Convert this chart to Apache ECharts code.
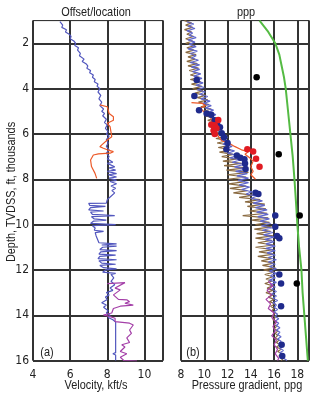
<!DOCTYPE html>
<html><head><meta charset="utf-8">
<script src="https://cdn.jsdelivr.net/npm/echarts@6/dist/echarts.min.js"></script>
<style>html,body{margin:0;padding:0;background:#fff}#c{width:325px;height:394px}</style>
</head><body><div id="c"></div>
<script>
// ---- axis ticks / labels ----
const depthTicks = [2,4,6,8,10,12,14,16];
const velTicks = [4,6,8,10];
const ppgTicks = [8,10,12,14,16,18];
const titles = ['Offset/location','ppp'];
const xNames = ['Velocity, kft/s','Pressure gradient, ppg'];
const yName = 'Depth, TVDSS, ft, thousands';
const panelLabels = ['(a)','(b)'];

// ---- panel (a): velocity [depth, kft/s] ----
const velBlue = [[1.05,5.45],[1.2,5.6],[1.3,5.55],[1.4,5.8],[1.5,5.75],[1.6,5.95],[1.7,6.05],[1.8,6.0],[1.9,6.2],[2.0,6.3],[2.1,6.25],[2.2,6.45],[2.3,6.4],[2.45,6.55],[2.55,6.5],[2.7,6.75],[2.8,6.65],[2.9,6.85],[3.0,6.95],[3.1,6.9],[3.2,7.1],[3.3,7.05],[3.4,7.25],[3.5,7.2],[3.6,7.35],[3.7,7.3],[3.8,7.5],[3.9,7.45],[4.0,7.6],[4.15,7.5],[4.3,7.65],[4.45,7.55],[4.6,7.7],[4.75,7.6],[4.9,7.8],[5.0,7.7],[5.1,7.85],[5.2,7.75],[5.35,7.95],[5.5,7.85],[5.6,8.0],[5.75,7.9],[5.9,8.05],[6.0,7.95],[6.1,8.1],[6.25,7.95],[6.4,8.05],[6.55,7.95],[6.7,8.1],[6.85,7.95],[7.0,8.1],[7.1,8.0],[7.25,8.3],[7.3,8.0],[7.45,8.4],[7.5,8.1],[7.6,8.45],[7.65,8.0],[7.75,8.5],[7.8,8.05],[7.9,8.5],[7.95,8.1],[8.05,8.5],[8.1,8.15],[8.2,8.5],[8.3,8.2],[8.4,8.45],[8.5,8.25],[8.6,8.4],[8.75,8.2],[8.9,8.0],[9.05,7.95],[9.06,7.0],[9.15,7.05],[9.2,7.9],[9.25,7.1],[9.35,7.0],[9.4,7.8],[9.45,7.1],[9.55,7.2],[9.6,8.4],[9.65,7.15],[9.75,7.3],[9.8,7.95],[9.85,7.25],[9.95,7.1],[10.0,8.45],[10.05,7.2],[10.15,7.35],[10.25,7.3],[10.3,7.8],[10.35,7.35],[10.5,7.4],[10.6,7.45],[10.7,7.5],[10.8,7.55],[10.85,8.5],[10.9,7.7],[10.95,8.5],[11.0,7.75],[11.1,7.6],[11.15,8.5],[11.2,7.65],[11.3,7.55],[11.35,8.45],[11.4,7.6],[11.5,7.5],[11.55,8.5],[11.6,7.55],[11.7,7.7],[11.75,8.45],[11.8,7.6],[11.9,7.8],[11.95,8.5],[12.0,7.9],[12.1,7.75],[12.15,8.45],[12.2,8.2],[12.35,8.35],[12.5,8.2],[12.65,8.4],[12.8,8.15],[12.9,8.3],[13.0,7.95],[13.1,8.1],[13.2,7.9],[13.3,8.0],[13.45,7.7],[13.55,7.95],[13.65,7.8],[13.8,8.05],[13.9,7.95],[14.0,8.15],[14.1,8.05],[14.2,8.3],[14.3,8.45],[15.65,8.45],[15.7,8.3],[15.75,8.45],[16.0,8.45]];
const velRed = [[4.72,7.6],[4.8,8.0],[5.1,8.1],[5.24,8.33],[5.4,8.33],[5.53,8.0],[5.68,8.15],[6.12,8.24],[6.27,8.0],[6.56,7.6],[6.63,7.79],[6.7,8.0],[6.78,8.33],[6.85,8.15],[6.88,7.52],[6.93,7.25],[7.15,7.1],[7.44,7.15],[7.74,7.34],[7.96,7.43]];
const velPurple = [[12.6,8.0],[12.56,8.95],[12.8,8.42],[12.88,8.7],[13.1,8.33],[13.3,8.6],[13.32,9.05],[13.4,9.2],[13.47,8.95],[13.55,9.4],[13.6,8.7],[13.7,8.33],[13.9,8.24],[13.99,7.79],[14.06,8.15],[14.13,8.42],[14.28,8.42],[14.35,9.2],[14.43,9.4],[14.65,9.2],[14.8,9.3],[15.0,9.05],[15.2,9.2],[15.3,8.78],[15.4,8.95],[15.6,8.7],[15.7,9.05],[15.85,8.7],[16.0,8.9],[16.02,9.6]];

// ---- panel (b): pressure gradient [depth, ppg] ----
const ppgBrown = [[1.0,8.3],[1.1,8.9],[1.2,8.4],[1.3,9.0],[1.4,8.3],[1.5,8.9],[1.6,8.5],[1.7,9.1],[1.8,8.4],[1.9,9.0],
[2.0,8.4],[2.1,9.2],[2.2,8.5],[2.3,9.1],[2.4,8.4],[2.5,9.3],[2.6,8.6],[2.7,9.2],[2.8,8.5],[2.9,9.4],
[3.0,8.6],[3.1,9.5],[3.2,8.7],[3.3,9.4],[3.4,8.8],[3.5,9.6],[3.6,8.8],[3.7,9.7],[3.8,8.9],[3.9,9.8],
[4.0,9.0],[4.1,9.9],[4.2,9.2],[4.3,10.1],[4.4,9.4],[4.5,10.3],[4.6,9.5],[4.7,10.4],[4.8,9.7],[4.9,10.6],
[5.0,9.9],[5.1,10.8],[5.2,10.1],[5.3,10.9],[5.4,10.3],[5.5,11.2],[5.6,10.5],[5.7,11.3],[5.8,10.7],[5.9,11.5],
[6.0,10.9],[6.1,11.9],[6.2,11.0],[6.3,12.0],[6.4,11.1],[6.5,12.2],[6.6,11.2],[6.7,12.3],[6.8,11.3],[6.9,12.5],
[7.0,11.5],[7.1,12.8],[7.2,11.6],[7.3,13.2],[7.4,11.7],[7.5,13.6],[7.6,11.9],[7.7,13.8],[7.8,12.0],[7.9,13.6],
[8.0,12.0],[8.1,13.5],[8.2,12.1],[8.3,13.6],[8.4,12.2],[8.5,13.7],[8.6,12.5],[8.7,14.2],[8.8,13.0],[8.9,14.8],
[9.0,13.5],[9.1,15.2],[9.2,13.7],[9.3,15.3],[9.4,13.9],[9.5,15.4],[9.6,13.3],[9.7,15.5],[9.8,14.1],[9.9,15.6],
[10.0,14.4],[10.1,15.8],[10.2,14.3],[10.3,15.7],[10.4,14.5],[10.5,15.9],[10.6,14.4],[10.7,15.8],[10.8,14.6],[10.9,16.0],
[11.0,14.4],[11.1,15.9],[11.2,14.7],[11.3,16.0],[11.4,14.6],[11.5,15.8],[11.6,14.9],[11.7,16.0],[11.8,15.0],[11.9,16.1],
[12.0,15.1],[12.1,16.0],[12.2,15.2],[12.3,15.9],[12.4,15.3],[12.5,15.8],[12.6,15.2],[12.7,15.9],[12.8,15.4],[12.9,15.9],
[13.0,15.3],[13.1,15.9],[13.2,15.5],[13.3,16.0],[13.4,15.6],[13.5,16.1],[13.6,15.7],[13.7,16.0],[13.8,15.8],[13.9,16.1],
[14.0,15.9],[14.1,16.1],[14.2,15.9],[14.3,16.2],[14.4,16.0],[14.5,16.2],[14.6,16.0],[14.7,16.3],[14.8,16.1],[14.9,16.3],
[15.0,16.1],[15.1,16.4],[15.2,16.2],[15.3,16.5],[15.4,16.2],[15.5,16.6],[15.6,16.3],[15.7,16.7],[15.8,16.4],[15.9,16.8],[16.0,16.6]];
const ppgBlue = [[1.05,8.5],[1.15,9.1],[1.25,8.6],[1.35,9.2],[1.45,8.5],[1.55,9.0],[1.65,8.7],[1.75,9.3],[1.85,8.6],[1.95,9.2],
[2.05,8.7],[2.15,9.3],[2.25,8.6],[2.35,9.4],[2.45,8.8],[2.55,9.3],[2.65,8.9],[2.75,9.5],[2.85,8.8],[2.95,9.6],
[3.05,8.9],[3.15,9.6],[3.25,9.0],[3.35,9.7],[3.45,9.1],[3.55,9.8],[3.65,9.2],[3.75,9.9],[3.85,9.3],[3.95,10.0],
[4.05,9.4],[4.15,10.1],[4.25,9.6],[4.35,10.3],[4.45,9.7],[4.55,10.5],[4.65,9.9],[4.75,10.6],[4.85,10.1],[4.95,10.8],
[5.05,10.3],[5.15,11.0],[5.25,10.5],[5.35,11.1],[5.45,10.7],[5.55,11.3],[5.65,10.9],[5.75,11.5],[5.85,11.1],[5.95,11.7],
[6.05,11.3],[6.15,12.0],[6.25,11.4],[6.35,12.2],[6.45,11.6],[6.55,12.4],[6.65,11.8],[6.75,12.6],[6.85,12.0],[6.95,12.9],
[7.05,12.2],[7.15,13.1],[7.25,12.4],[7.35,13.4],[7.45,12.6],[7.55,13.6],[7.65,12.7],[7.75,13.7],[7.85,12.8],[7.95,13.8],
[8.05,12.9],[8.15,13.8],[8.25,13.0],[8.35,13.9],[8.45,13.2],[8.55,14.1],[8.65,13.6],[8.75,14.5],[8.85,14.0],[8.95,15.0],
[9.05,14.2],[9.15,15.2],[9.25,14.4],[9.35,15.4],[9.45,14.5],[9.55,15.5],[9.65,14.6],[9.75,15.6],[9.85,14.8],[9.95,15.7],
[10.05,14.9],[10.15,15.8],[10.25,15.0],[10.35,15.9],[10.45,15.1],[10.55,16.0],[10.65,15.2],[10.75,16.0],[10.85,15.3],[10.95,16.1],
[11.05,15.3],[11.15,16.1],[11.25,15.4],[11.35,16.1],[11.45,15.5],[11.55,16.2],[11.65,15.5],[11.75,16.1],[11.85,15.6],[11.95,16.2],
[12.05,15.6],[12.15,16.2],[12.25,15.7],[12.35,16.1],[12.45,15.6],[12.55,16.2],[12.65,15.7],[12.75,16.1],[12.85,15.8],[12.95,16.2],
[13.05,15.8],[13.15,16.2],[13.25,15.9],[13.35,16.3],[13.45,15.9],[13.55,16.2],[13.65,16.0],[13.75,16.3],[13.85,16.0],[13.95,16.3],
[14.05,16.1],[14.15,16.4],[14.25,16.1],[14.35,16.4],[14.45,16.2],[14.55,16.5],[14.65,16.2],[14.75,16.5],[14.85,16.3],[14.95,16.6],
[15.05,16.3],[15.15,16.6],[15.25,16.4],[15.35,16.7],[15.45,16.5],[15.55,16.8],[15.65,16.5],[15.75,16.9],[15.85,16.6],[15.95,17.0],[16.0,17.1]];
const ppgPurple = [[12.5,15.5],[12.7,15.9],[12.9,15.4],[13.1,15.8],[13.3,15.3],[13.5,15.7],[13.7,15.5],[13.9,16.0],[14.1,15.8],[14.3,16.2],[14.5,15.9],[14.7,16.1],[14.9,15.8],[15.1,16.2],[15.3,16.0],[15.5,16.3],[15.7,16.1],[15.9,16.4],[16.0,16.3]];
const ppgRed = [[4.62,8.9],[4.65,9.8],[4.75,10.1],[4.85,9.7],[5.0,9.9],[5.2,10.5],[5.5,10.7],[5.7,10.6],[5.9,11.0],[6.1,11.2],[6.3,11.5],[6.4,12.1],[6.55,12.6],[6.7,13.2],[6.78,13.8],[6.9,13.5],[7.05,13.9],[7.2,14.2],[7.45,14.0],[7.65,14.2],[7.8,14.0],[8.0,14.4]];
const ppgGreen = [[1.0,14.75],[1.5,15.5],[2.0,16.1],[2.5,16.45],[3.0,16.65],[3.5,16.85],[4.0,17.0],[5.0,17.2],[6.0,17.4],[7.0,17.6],[8.0,17.75],[9.0,17.88],[10.0,18.0],[11.0,18.15],[12.0,18.35],[13.0,18.45],[14.0,18.6],[15.0,18.75],[16.0,18.9]];
const dotsBlue = [[3.62,9.35],[4.33,9.15],[4.95,9.55],[5.1,10.2],[5.15,10.6],[5.4,10.9],[5.55,11.1],[5.7,11.35],[5.97,11.5],[6.15,11.7],[6.4,12.0],[6.68,11.9],[6.95,12.8],[7.05,13.1],[7.12,13.45],[7.3,13.5],[7.55,13.55],[8.6,14.4],[8.65,14.65],[9.6,16.1],[10.1,16.1],[10.5,16.25],[10.6,16.45],[12.2,16.45],[12.6,16.6],[13.6,16.6],[15.3,16.65],[15.8,16.7]];
const dotsRed = [[5.38,11.2],[5.6,10.6],[5.62,10.9],[5.75,11.05],[5.85,10.8],[6.0,10.9],[6.68,13.7],[6.78,14.2],[7.1,14.45],[7.45,14.75]];
const dotsBlack = [[3.5,14.5],[6.9,16.4],[9.6,18.2],[12.6,17.95]];

const FONT = "'Liberation Sans','Arial',sans-serif";
const TICKFONT = "'DejaVu Sans Condensed','Liberation Sans',sans-serif";
const SQ = 0.84; // horizontal condensing of text
const flip = a => a.map(p => [p[1], p[0]]);
const GRIDC = '#333';

function line(data, color, xi, w, z) {
  return {type:'line', xAxisIndex:xi, yAxisIndex:xi, data:flip(data), showSymbol:false, symbol:'none',
    lineStyle:{color, width:w||1.2}, z:z||3, animation:false, silent:true};
}
function dots(data, color) {
  return {type:'scatter', xAxisIndex:1, yAxisIndex:1, data:flip(data), symbolSize:6.5,
    itemStyle:{color, opacity:1}, z:6, animation:false, silent:true};
}
function xAxis(gi, min, max, ticks) {
  return {type:'value', gridIndex:gi, min, max, interval:2, position:'bottom',
    axisLine:{show:false}, axisTick:{show:false},
    axisLabel:{fontFamily:TICKFONT, fontSize:12, color:'#222', margin:8, showMaxLabel:false,
      formatter: v => ticks.includes(v) ? String(v) : ''},
    splitLine:{show:true, lineStyle:{color:GRIDC, width:2}}};
}
function yAxis(gi, showLabels) {
  return {type:'value', gridIndex:gi, min:1, max:16, interval:1, inverse:true,
    axisLine:{show:false}, axisTick:{show:false},
    axisLabel:{show:showLabels, fontFamily:TICKFONT, fontSize:12, color:'#222', margin:4,
      formatter: v => depthTicks.includes(v) ? String(v) : ''},
    splitLine:{show:true, lineStyle:{color:['rgba(0,0,0,0)', GRIDC], width:2}}};
}
function txt(text, x, y, opts) {
  return Object.assign({type:'text', x, y, scaleX:SQ, silent:true,
    style:{text, font:'12px '+FONT, fill:'#222', align:'center', verticalAlign:'middle'}}, opts||{});
}

const chart = echarts.init(document.getElementById('c'), null, {renderer:'canvas'});
chart.setOption({
  animation:false,
  backgroundColor:'#fff',
  grid:[
    {left:33, top:20.6, width:130, height:340, show:true, borderColor:'#222', borderWidth:1, backgroundColor:'transparent'},
    {left:181, top:20.6, width:128, height:340, show:true, borderColor:'#222', borderWidth:1, backgroundColor:'transparent'}
  ],
  xAxis:[xAxis(0,4,11,velTicks), xAxis(1,8,19,ppgTicks)],
  yAxis:[yAxis(0,true), yAxis(1,false)],
  graphic:[
    txt(titles[0], 96, 12.5, {style:{text:titles[0], font:'13px '+FONT, fill:'#222', align:'center', verticalAlign:'middle'}}),
    txt(titles[1], 246, 12, {style:{text:titles[1], font:'13px '+FONT, fill:'#222', align:'center', verticalAlign:'middle'}}),
    txt(xNames[0], 96, 385, {style:{text:xNames[0], font:'13px '+FONT, fill:'#222', align:'center', verticalAlign:'middle'}}),
    txt(xNames[1], 247, 385, {style:{text:xNames[1], font:'13px '+FONT, fill:'#222', align:'center', verticalAlign:'middle'}}),
    txt(yName, 11, 192, {rotation:Math.PI/2, style:{text:yName, font:'13px '+FONT, fill:'#222', align:'center', verticalAlign:'middle'}}),
    txt(panelLabels[0], 47, 352, {style:{text:panelLabels[0], font:'13px '+FONT, fill:'#222', align:'center', verticalAlign:'middle'}}),
    txt(panelLabels[1], 193, 352, {style:{text:panelLabels[1], font:'13px '+FONT, fill:'#222', align:'center', verticalAlign:'middle'}})
  ],
  series:[
    line(velBlue,'#5257be',0),
    line(velRed,'#ec5a2a',0),
    line(velPurple,'#a43fa8',0),
    line(ppgGreen,'#55bb44',1,2,2),
    line(ppgBrown,'#8a6a40',1),
    line(ppgBlue,'#5f66cc',1),
    line(ppgPurple,'#a43fa8',1),
    line(ppgRed,'#ec5a2a',1),
    dots(dotsBlue,'#1f2a8c'),
    dots(dotsRed,'#e01b22'),
    dots(dotsBlack,'#000')
  ]
});
</script></body></html>
